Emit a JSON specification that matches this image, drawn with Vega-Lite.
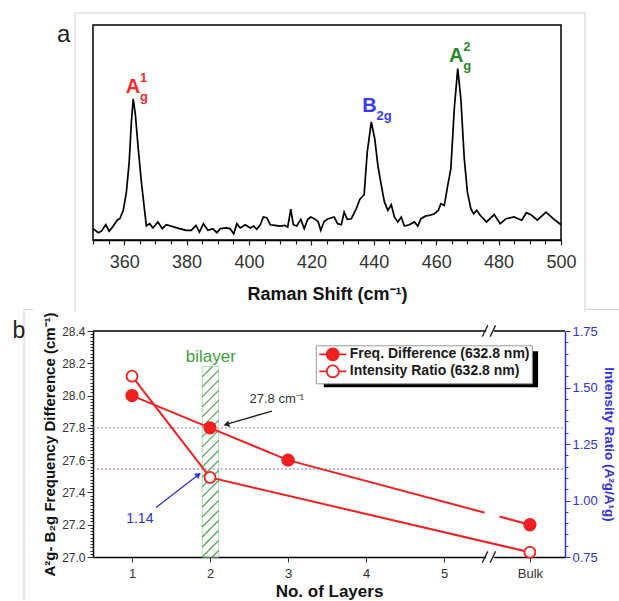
{
  "$schema": "https://vega.github.io/schema/vega-lite/v6.json",
  "padding": {"left": 12, "top": 11, "right": 0, "bottom": 0},
  "background": "white",
  "config": {"font": "Liberation Sans", "view": {"stroke": null}, "axis": {"grid": false}},
  "spacing": -6,
  "resolve": {"legend": {"fill": "independent"}, "scale": {"fill": "independent"}},
  "vconcat": [
    {
      "width": 468,
      "height": 215,
      "view": {"stroke": "black", "strokeWidth": 1.5},
      "encoding": {
        "x": {"field": "s", "type": "quantitative", "scale": {"domain": [350, 500], "nice": false, "zero": false},
          "axis": {"title": "Raman Shift (cm⁻¹)", "values": [350,355,360,365,370,375,380,385,390,395,400,405,410,415,420,425,430,435,440,445,450,455,460,465,470,475,480,485,490,495,500],
            "labelExpr": "datum.value % 20 === 0 ? datum.label : ''",
            "tickSize": {"condition": {"test": "datum.value % 20 === 0", "value": 5}, "value": 4},
            "labelFontSize": 18, "labelColor": "#333", "labelPadding": 8, "labelOverlap": false, "labelFlush": false,
            "titleFontSize": 18, "titleFontWeight": "bold", "titleColor": "#111", "titlePadding": 14,
            "domainColor": "black", "domainWidth": 1.5, "tickColor": "#222", "tickWidth": 1.2}},
        "y": {"field": "i", "type": "quantitative", "scale": {"domain": [0, 100], "nice": false, "zero": false}, "axis": null}
      },
      "layer": [
        {
          "data": {"values": [
            {"s": 344.23, "s2": 344.23, "i": 105.6, "i2": -33.5},
            {"s": 344.23, "s2": 507.7, "i": 105.6, "i2": 105.6},
            {"s": 507.7, "s2": 507.7, "i": 105.6, "i2": -33.5}
          ]},
          "mark": {"type": "rule", "color": "#cfcfcf", "strokeWidth": 1},
          "encoding": {"x2": {"field": "s2"}, "y2": {"field": "i2"}}
        },
        {
          "data": {"values": [
            {"s":350.0,"i":5.3},{"s":351.7,"i":3.4},{"s":352.7,"i":4.1},{"s":354.1,"i":7.1},{"s":355.2,"i":4.1},{"s":356.5,"i":6.5},{"s":357.8,"i":9.3},{"s":358.6,"i":9.9},{"s":359.7,"i":13.8},{"s":360.7,"i":22.3},{"s":361.6,"i":36.3},{"s":362.3,"i":54.9},{"s":362.9,"i":65.7},{"s":363.6,"i":58.1},{"s":364.5,"i":42.5},{"s":365.5,"i":27.0},{"s":366.6,"i":13.0},{"s":367.1,"i":6.5},{"s":368.2,"i":7.6},{"s":369.2,"i":5.6},{"s":370.8,"i":8.4},{"s":372.2,"i":5.3},{"s":373.5,"i":7.1},{"s":375.6,"i":6.2},{"s":377.7,"i":5.3},{"s":379.9,"i":4.5},{"s":381.5,"i":4.5},{"s":383.0,"i":6.8},{"s":384.1,"i":3.7},{"s":385.4,"i":7.6},{"s":386.8,"i":4.5},{"s":388.4,"i":5.3},{"s":389.7,"i":3.4},{"s":390.8,"i":5.3},{"s":392.9,"i":5.6},{"s":393.9,"i":5.3},{"s":395.1,"i":2.9},{"s":396.1,"i":7.6},{"s":397.2,"i":5.6},{"s":398.8,"i":7.1},{"s":400.4,"i":5.6},{"s":401.5,"i":6.5},{"s":402.5,"i":5.0},{"s":403.6,"i":7.1},{"s":404.6,"i":10.7},{"s":405.7,"i":10.4},{"s":406.8,"i":7.1},{"s":408.3,"i":6.8},{"s":409.9,"i":6.5},{"s":411.5,"i":6.8},{"s":412.4,"i":6.0},{"s":413.4,"i":14.3},{"s":414.2,"i":7.1},{"s":415.3,"i":6.5},{"s":416.6,"i":9.6},{"s":417.7,"i":5.3},{"s":418.8,"i":9.6},{"s":419.8,"i":10.7},{"s":421.3,"i":9.6},{"s":422.2,"i":8.4},{"s":423.0,"i":4.5},{"s":424.1,"i":8.7},{"s":425.4,"i":9.9},{"s":427.3,"i":10.7},{"s":428.4,"i":7.6},{"s":429.6,"i":7.1},{"s":430.5,"i":13.0},{"s":431.5,"i":9.6},{"s":432.8,"i":9.9},{"s":434.4,"i":14.6},{"s":435.5,"i":18.9},{"s":436.9,"i":21.1},{"s":437.9,"i":40.9},{"s":439.2,"i":54.9},{"s":440.3,"i":47.1},{"s":441.3,"i":34.7},{"s":442.4,"i":25.4},{"s":443.4,"i":17.7},{"s":444.5,"i":13.8},{"s":445.6,"i":16.4},{"s":446.6,"i":10.7},{"s":447.7,"i":8.4},{"s":448.8,"i":10.7},{"s":449.8,"i":6.5},{"s":451.4,"i":7.1},{"s":453.0,"i":8.4},{"s":454.1,"i":6.5},{"s":455.1,"i":9.9},{"s":456.7,"i":11.2},{"s":458.1,"i":11.5},{"s":459.4,"i":12.2},{"s":460.7,"i":13.8},{"s":461.5,"i":16.9},{"s":462.6,"i":16.1},{"s":463.7,"i":25.4},{"s":464.7,"i":33.2},{"s":465.8,"i":61.1},{"s":466.9,"i":79.7},{"s":467.9,"i":65.7},{"s":469.0,"i":37.8},{"s":470.0,"i":22.3},{"s":471.1,"i":14.6},{"s":472.0,"i":12.2},{"s":473.0,"i":13.8},{"s":474.1,"i":11.5},{"s":476.1,"i":8.4},{"s":478.6,"i":11.8},{"s":480.5,"i":7.6},{"s":482.4,"i":9.9},{"s":484.9,"i":10.7},{"s":487.4,"i":9.2},{"s":488.9,"i":12.7},{"s":490.6,"i":11.5},{"s":492.4,"i":9.2},{"s":495.2,"i":13.0},{"s":497.5,"i":9.9},{"s":500.0,"i":7.1}
          ]},
          "mark": {"type": "line", "color": "black", "strokeWidth": 1.7}
        },
        {
          "data": {"name": "peaks", "values": [
            {"s": 362.8, "i": 68.6, "main": "A", "sup": "1", "sub": "g", "mode": "A1g"},
            {"s": 438.6, "i": 59.5, "main": "B", "sup": "", "sub": "2g", "mode": "B2g"},
            {"s": 466.45, "i": 82.8, "main": "A", "sup": "2", "sub": "g", "mode": "A2g"}
          ]},
          "layer": [
            {"mark": {"type": "text", "fontSize": 20, "fontWeight": "bold", "align": "center", "baseline": "alphabetic"},
             "encoding": {"text": {"field": "main"}, "color": {"field": "mode", "type": "nominal", "scale": {"domain": ["A1g", "B2g", "A2g"], "range": ["#f52a2a", "#3b3bf5", "#278a27"]}, "legend": null}}},
            {"mark": {"type": "text", "fontSize": 13, "fontWeight": "bold", "align": "left", "baseline": "alphabetic", "dx": 7, "dy": -11},
             "encoding": {"text": {"field": "sup"}, "color": {"field": "mode", "type": "nominal", "legend": null}}},
            {"mark": {"type": "text", "fontSize": 13, "fontWeight": "bold", "align": "left", "baseline": "alphabetic", "dx": 7, "dy": 8},
             "encoding": {"text": {"field": "sub"}, "color": {"field": "mode", "type": "nominal", "legend": null}}}
          ]
        },
        {
          "data": {"values": [{"s": 340.6, "i": 95.3, "t": "a"}]},
          "mark": {"type": "text", "fontSize": 24, "align": "center", "baseline": "middle", "color": "#222"},
          "encoding": {"text": {"field": "t"}}
        }
      ]
    },
    {
      "width": 472,
      "height": 226,
      "encoding": {
        "x": {"field": "n", "type": "quantitative", "scale": {"domain": [0.5, 6.55], "nice": false, "zero": false},
          "axis": {"title": "No. of Layers", "values": [1, 2, 3, 4, 5, 6.1],
            "labelExpr": "datum.value > 6 ? 'Bulk' : datum.label",
            "labelFontSize": 13, "labelColor": "#333", "labelPadding": 5, "tickSize": 5, "labelFlush": false,
            "titleFontSize": 17, "titleFontWeight": "bold", "titleColor": "#111", "titlePadding": 3,
            "domainColor": "black", "domainWidth": 1.5, "tickColor": "#333"}}
      },
      "layer": [
        {
          "encoding": {
            "y": {"field": "v", "type": "quantitative", "scale": {"domain": [27.0, 28.4], "nice": false, "zero": false},
              "axis": {"title": "A²g- B₂g Frequency Difference (cm⁻¹)",
                "values": [27,27.02,27.04,27.06,27.08,27.1,27.12,27.14,27.16,27.18,27.2,27.22,27.24,27.26,27.28,27.3,27.32,27.34,27.36,27.38,27.4,27.42,27.44,27.46,27.48,27.5,27.52,27.54,27.56,27.58,27.6,27.62,27.64,27.66,27.68,27.7,27.72,27.74,27.76,27.78,27.8,27.82,27.84,27.86,27.88,27.9,27.92,27.94,27.96,27.98,28,28.02,28.04,28.06,28.08,28.1,28.12,28.14,28.16,28.18,28.2,28.22,28.24,28.26,28.28,28.3,28.32,28.34,28.36,28.38,28.4],
                "labelExpr": "abs(datum.value*5 - round(datum.value*5)) < 0.001 ? format(datum.value, '.1f') : ''",
                "tickSize": {"condition": {"test": "abs(datum.value*5 - round(datum.value*5)) < 0.001", "value": 6}, "value": 3},
                "labelFontSize": 12, "labelColor": "#333", "labelPadding": 2, "labelOverlap": false,
                "titleFontSize": 15, "titleFontWeight": "bold", "titleColor": "#111", "titlePadding": 4,
                "domainColor": "black", "domainWidth": 1.5, "tickColor": "#333"}}
          },
          "layer": [
            {"data": {"values": [
               {"n": -0.385, "n2": -0.385, "v": 28.534, "v2": 26.732},
               {"n": -0.385, "n2": -0.269, "v": 28.534, "v2": 28.534},
               {"n": 6.808, "n2": 7.244, "v": 28.534, "v2": 28.534}
             ]},
             "mark": {"type": "rule", "color": "#cfcfcf", "strokeWidth": 1},
             "encoding": {"x2": {"field": "n2"}, "y2": {"field": "v2"}}},
            {"data": {"values": [{"n": 0.5, "n2": 6.55, "v": 28.4}]},
             "mark": {"type": "rule", "color": "black", "strokeWidth": 1.5},
             "encoding": {"x2": {"field": "n2"}}},
            {"data": {"values": [{"n": 0.5, "n2": 6.55, "v": 27.8}]},
             "mark": {"type": "rule", "color": "#8a8a8a", "strokeWidth": 1, "strokeDash": [2, 2]},
             "encoding": {"x2": {"field": "n2"}}},
            {"data": {"values": [{"n": 0.5, "n2": 6.55, "v": 27.545}]},
             "mark": {"type": "rule", "color": "#6a6aff", "strokeWidth": 1, "strokeDash": [2, 2]},
             "encoding": {"x2": {"field": "n2"}}},
            {"data": {"values": [{"n": 1.9, "n2": 2.11, "v": 27.0, "v2": 28.18}]},
             "mark": {"type": "rect", "fill": "white", "fillOpacity": 0, "stroke": "#b5dbb5", "strokeWidth": 1},
             "encoding": {"x2": {"field": "n2"}, "y2": {"field": "v2"}}},
            {"data": {"values": [
               {"n": 2.028, "n2": 2.11, "v": 27.0, "v2": 27.04},
               {"n": 1.9, "n2": 2.11, "v": 27.0, "v2": 27.102},
               {"n": 1.9, "n2": 2.11, "v": 27.062, "v2": 27.164},
               {"n": 1.9, "n2": 2.11, "v": 27.124, "v2": 27.226},
               {"n": 1.9, "n2": 2.11, "v": 27.186, "v2": 27.288},
               {"n": 1.9, "n2": 2.11, "v": 27.248, "v2": 27.35},
               {"n": 1.9, "n2": 2.11, "v": 27.31, "v2": 27.412},
               {"n": 1.9, "n2": 2.11, "v": 27.372, "v2": 27.474},
               {"n": 1.9, "n2": 2.11, "v": 27.434, "v2": 27.536},
               {"n": 1.9, "n2": 2.11, "v": 27.496, "v2": 27.598},
               {"n": 1.9, "n2": 2.11, "v": 27.558, "v2": 27.66},
               {"n": 1.9, "n2": 2.11, "v": 27.62, "v2": 27.722},
               {"n": 1.9, "n2": 2.11, "v": 27.682, "v2": 27.784},
               {"n": 1.9, "n2": 2.11, "v": 27.744, "v2": 27.846},
               {"n": 1.9, "n2": 2.11, "v": 27.806, "v2": 27.908},
               {"n": 1.9, "n2": 2.11, "v": 27.868, "v2": 27.97},
               {"n": 1.9, "n2": 2.11, "v": 27.93, "v2": 28.032},
               {"n": 1.9, "n2": 2.11, "v": 27.992, "v2": 28.094},
               {"n": 1.9, "n2": 2.11, "v": 28.054, "v2": 28.156},
               {"n": 1.9, "n2": 2.032, "v": 28.116, "v2": 28.18}
             ]},
             "mark": {"type": "rule", "color": "#4fa64f", "strokeWidth": 1.2},
             "encoding": {"x2": {"field": "n2"}, "y2": {"field": "v2"}}},
            {"data": {"values": [{"n": 1, "v": 28.0}, {"n": 2, "v": 27.8}, {"n": 3, "v": 27.6}, {"n": 6.1, "v": 27.2}]},
             "mark": {"type": "line", "color": "#f22020", "strokeWidth": 2}},
            {"data": {"values": [{"n": 5.52, "n2": 5.71, "v": 27.275, "v2": 27.25}]},
             "mark": {"type": "rule", "color": "white", "strokeWidth": 5},
             "encoding": {"x2": {"field": "n2"}, "y2": {"field": "v2"}}},
            {"data": {"values": [{"n": 5.54, "n2": 5.64, "v": 28.4, "v2": 28.4}, {"n": 5.54, "n2": 5.64, "v": 27.0, "v2": 27.0}]},
             "mark": {"type": "rule", "color": "white", "strokeWidth": 4},
             "encoding": {"x2": {"field": "n2"}, "y2": {"field": "v2"}}},
            {"data": {"values": [
               {"n": 5.49, "n2": 5.56, "v": 28.365, "v2": 28.435},
               {"n": 5.59, "n2": 5.66, "v": 28.365, "v2": 28.435},
               {"n": 5.49, "n2": 5.56, "v": 26.965, "v2": 27.035},
               {"n": 5.59, "n2": 5.66, "v": 26.965, "v2": 27.035}
             ]},
             "mark": {"type": "rule", "color": "#222", "strokeWidth": 1.3},
             "encoding": {"x2": {"field": "n2"}, "y2": {"field": "v2"}}},
            {"data": {"values": [{"n": 3.458, "n2": 6.205, "v": 28.274, "v2": 28.051}]},
             "mark": {"type": "rect", "color": "black"},
             "encoding": {"x2": {"field": "n2"}, "y2": {"field": "v2"}}},
            {"data": {"values": [{"n": 2.795, "n2": 2.216, "v": 27.904, "v2": 27.823}]},
             "mark": {"type": "rule", "color": "#222", "strokeWidth": 1.3},
             "encoding": {"x2": {"field": "n2"}, "y2": {"field": "v2"}}},
            {"data": {"values": [{"n": 2.21, "v": 27.821}]},
             "mark": {"type": "point", "shape": "triangle-up", "filled": true, "color": "#222", "size": 45, "angle": 254, "opacity": 1}},
            {"data": {"values": [{"n": 1.308, "n2": 1.847, "v": 27.306, "v2": 27.508}]},
             "mark": {"type": "rule", "color": "#3030e8", "strokeWidth": 1.3},
             "encoding": {"x2": {"field": "n2"}, "y2": {"field": "v2"}}},
            {"data": {"values": [{"n": 1.852, "v": 27.51}]},
             "mark": {"type": "point", "shape": "triangle-up", "filled": true, "color": "#3030e8", "size": 45, "angle": 52, "opacity": 1}},
            {"data": {"values": [{"n": 1, "v": 28.0, "series": "Freq. Difference (632.8 nm)"}, {"n": 2, "v": 27.8, "series": "Freq. Difference (632.8 nm)"}, {"n": 3, "v": 27.6, "series": "Freq. Difference (632.8 nm)"}, {"n": 6.1, "v": 27.2, "series": "Freq. Difference (632.8 nm)"}]},
             "mark": {"type": "point", "filled": true, "stroke": "#f22020", "strokeWidth": 1.5, "size": 140, "opacity": 1},
             "encoding": {"fill": {"field": "series", "type": "nominal",
               "scale": {"domain": ["Freq. Difference (632.8 nm)", "Intensity Ratio (632.8 nm)"], "range": ["#f22020", "white"]},
               "legend": {"title": null, "orient": "none", "legendX": 222.8, "legendY": 14.3,
                 "symbolType": "M-2.25,0H-1M1,0H2.25M1,0A1,1,0,1,1,-1,0A1,1,0,1,1,1,0Z",
                 "symbolSize": 144, "symbolStrokeWidth": 1.8, "symbolStrokeColor": "#f22020",
                 "labelFontSize": 14, "labelFontWeight": "bold", "labelColor": "#1a1a1a", "labelLimit": 300,
                 "strokeColor": "#999", "fillColor": "white", "padding": 2, "rowPadding": -3,
                 "symbolOffset": 8, "labelOffset": 10}}}},
            {"data": {"values": [{"n": 2.01, "v": 28.208, "t": "bilayer"}]},
             "mark": {"type": "text", "fontSize": 17, "align": "center", "baseline": "alphabetic", "color": "#3c9f3c"},
             "encoding": {"text": {"field": "t"}}},
            {"data": {"values": [{"n": 2.506, "v": 27.952, "t": "27.8 cm⁻¹"}]},
             "mark": {"type": "text", "fontSize": 13, "align": "left", "baseline": "alphabetic", "color": "#333"},
             "encoding": {"text": {"field": "t"}}},
            {"data": {"values": [{"n": 1.1, "v": 27.209, "t": "1.14"}]},
             "mark": {"type": "text", "fontSize": 14, "align": "center", "baseline": "alphabetic", "color": "#3030e8"},
             "encoding": {"text": {"field": "t"}}},
            {"data": {"values": [{"n": -0.451, "v": 28.359, "t": "b"}]},
             "mark": {"type": "text", "fontSize": 23, "align": "center", "baseline": "alphabetic", "color": "#222"},
             "encoding": {"text": {"field": "t"}}}
          ]
        },
        {
          "encoding": {
            "y": {"field": "r", "type": "quantitative", "scale": {"domain": [0.75, 1.75], "nice": false, "zero": false},
              "axis": {"orient": "right", "title": "Intensity Ratio (A²g/A¹g)",
                "values": [0.75,0.8,0.85,0.9,0.95,1,1.05,1.1,1.15,1.2,1.25,1.3,1.35,1.4,1.45,1.5,1.55,1.6,1.65,1.7,1.75],
                "labelExpr": "abs(datum.value*4 - round(datum.value*4)) < 0.001 ? format(datum.value, '.2f') : ''",
                "tickSize": {"condition": {"test": "abs(datum.value*4 - round(datum.value*4)) < 0.001", "value": 5}, "value": 3},
                "labelFontSize": 13, "labelColor": "#3030e0", "labelPadding": 2, "labelOverlap": false,
                "titleFontSize": 13.5, "titleFontWeight": "bold", "titleColor": "#3030e0", "titlePadding": 4,
                "domainColor": "#3030e0", "domainWidth": 1.5, "tickColor": "#3030e0"}}
          },
          "layer": [
            {"data": {"values": [{"n": 1, "r": 1.55}, {"n": 2, "r": 1.102}, {"n": 6.1, "r": 0.771}]},
             "mark": {"type": "line", "color": "#f22020", "strokeWidth": 2}},
            {"data": {"values": [{"n": 1, "r": 1.55, "series": "Intensity Ratio (632.8 nm)"}, {"n": 2, "r": 1.102, "series": "Intensity Ratio (632.8 nm)"}, {"n": 6.1, "r": 0.771, "series": "Intensity Ratio (632.8 nm)"}]},
             "mark": {"type": "point", "filled": true, "stroke": "#f22020", "strokeWidth": 1.8, "size": 120, "opacity": 1},
             "encoding": {"fill": {"field": "series", "type": "nominal",
               "scale": {"domain": ["Freq. Difference (632.8 nm)", "Intensity Ratio (632.8 nm)"], "range": ["#f22020", "white"]},
               "legend": {"title": null, "orient": "none", "legendX": 222.8, "legendY": 14.3,
                 "symbolType": "M-2.25,0H-1M1,0H2.25M1,0A1,1,0,1,1,-1,0A1,1,0,1,1,1,0Z",
                 "symbolSize": 144, "symbolStrokeWidth": 1.8, "symbolStrokeColor": "#f22020",
                 "labelFontSize": 14, "labelFontWeight": "bold", "labelColor": "#1a1a1a", "labelLimit": 300,
                 "strokeColor": "#999", "fillColor": "white", "padding": 2, "rowPadding": -3,
                 "symbolOffset": 8, "labelOffset": 10}}}}
          ]
        }
      ],
      "resolve": {"scale": {"y": "independent"}}
    }
  ]
}
